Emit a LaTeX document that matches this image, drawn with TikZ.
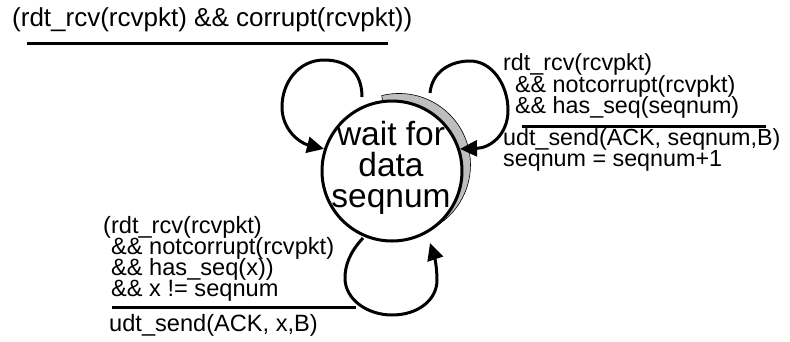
\documentclass[tikz,border=0pt]{standalone}
\usepackage{fontspec}
\setmainfont{Liberation Sans}
\usetikzlibrary{arrows.meta}
\definecolor{shadowgray}{HTML}{BCBEC0}
\begin{document}
\begin{tikzpicture}[x=1pt,y=-1pt,
  lbl/.style={font=\fontsize{23.3}{23}\selectfont, anchor=base west, inner sep=0pt, text height=15.5pt, text depth=4pt},
  botlbl/.style={lbl, font=\fontsize{23.6}{23}\selectfont},
  toplbl/.style={lbl, font=\fontsize{26}{26}\selectfont},
  rulestyle/.style={line width=3pt},
  loopline/.style={line width=3pt, -{Triangle[length=17pt,width=16pt]}},
  statebox/.style={circle, draw, line width=3pt, fill=white, minimum size=140pt, inner sep=0pt}]
\path[use as bounding box] (0,0) rectangle (790,341);

% shadow crescent
\fill[shadowgray, draw=black, line width=0.6pt]
  (381.7,95.6) arc[start angle=-104, end angle=60, radius=71.5]
  -- (434.5,226.6) arc[start angle=52.6, end angle=-97.6, radius=70] -- cycle;

% state
\node[statebox] (st) at (392,171) {};
\node[font=\fontsize{33.5}{31}\selectfont, align=center] (stlabel) at (391,167.5) {wait for\\data\\seqnum};

% loop ends
\coordinate (l1s) at (362,97);
\coordinate (l2s) at (430,93);
\coordinate (l3s) at (363,238);
\coordinate (l3e) at (430,243);

\draw[loopline] (l1s) .. controls (362,72) and (347,60) .. (324,60)
  .. controls (299,60) and (282,82) .. (282,107)
  .. controls (282,130) and (300,143) .. (st.162);

\draw[loopline] (l2s) .. controls (432,72) and (450,61) .. (470,61)
  .. controls (492,61) and (508,85) .. (508,110)
  .. controls (508,135) and (490,148) .. (st.18);

\draw[loopline] (l3s) .. controls (350,252) and (345,265) .. (345,278)
  .. controls (345,300) and (368,315) .. (392,315)
  .. controls (418,315) and (437,300) .. (437,280)
  .. controls (437,266) and (434,255) .. (l3e);

% top label
\node[toplbl] (t1) at (12,26) {(rdt\_rcv(rcvpkt) \&\& corrupt(rcvpkt))};
\draw[rulestyle] (27,43) -- (388,43);

% right label
\node[lbl] (r1) at (503,70) {rdt\_rcv(rcvpkt)};
\node[lbl] (r2) at (515,92) {\&\& notcorrupt(rcvpkt)};
\node[lbl] (r3) at (515,113) {\&\& has\_seq(seqnum)};
\draw[rulestyle] (522,126) -- (766,126);
\node[lbl] (r4) at (503,145) {udt\_send(ACK, seqnum,B)};
\node[lbl] (r5) at (503,166) {seqnum = seqnum+1};

% bottom label
\node[botlbl] (b1) at (103,233) {(rdt\_rcv(rcvpkt)};
\node[botlbl] (b2) at (111,254) {\&\& notcorrupt(rcvpkt)};
\node[botlbl] (b3) at (111,275) {\&\& has\_seq(x))};
\node[botlbl] (b4) at (111,296) {\&\& x != seqnum};
\draw[rulestyle] (112,307) -- (356,307);
\node[botlbl] (b5) at (109,331) {udt\_send(ACK, x,B)};
\end{tikzpicture}
\end{document}
